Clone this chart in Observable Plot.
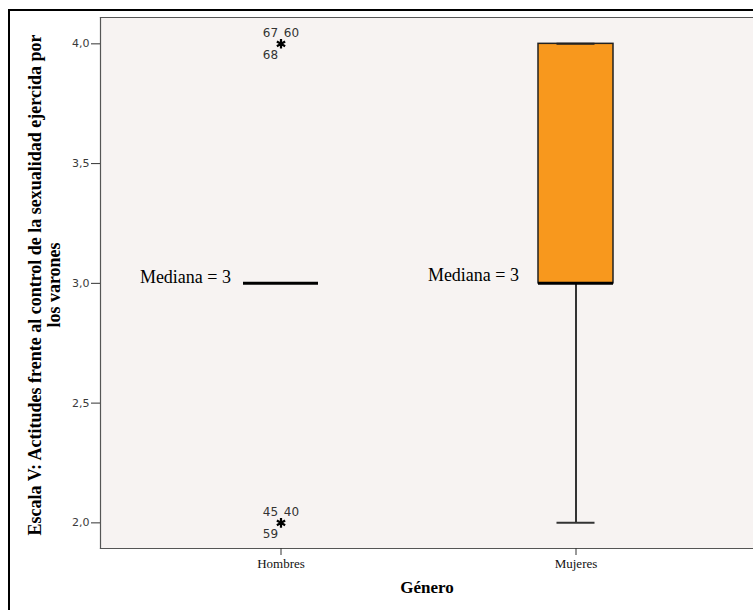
<!DOCTYPE html>
<html>
<head>
<meta charset="utf-8">
<script src="https://cdn.jsdelivr.net/npm/d3@7"></script>
<script src="https://cdn.jsdelivr.net/npm/@observablehq/plot@0.6"></script>
<style>
  html, body { margin: 0; padding: 0; background: #ffffff; }
  #wrap { position: relative; width: 753px; height: 610px; overflow: hidden; }
  #border { position: absolute; left: 8px; top: 9px; width: 800px; height: 700px;
            border-left: 2px solid #000; border-top: 2px solid #000; pointer-events: none; }
</style>
</head>
<body>
<div id="wrap"><div id="border"></div></div>
<script>
// ---- data ----
const categories   = ["Hombres", "Mujeres"];
const q1           = [3, 3];
const medians      = [3, 3];
const q3           = [3, 4];
const whiskerLow   = [3, 2];
const whiskerHigh  = [3, 4];
const outlierCategory = ["Hombres", "Hombres"];
const outlierValue    = [4, 2];
const outlierIds      = [["67", "60", "68"], ["45", "40", "59"]];
const yTicks = [2, 2.5, 3, 3.5, 4];
const yTitle = "Escala V: Actitudes frente al control de la sexualidad ejercida por\nlos varones";
const xTitle = "Género";

// ---- tables built from arrays ----
const boxes = categories.map((c, i) => ({
  cat: c, q1: q1[i], med: medians[i], q3: q3[i], lo: whiskerLow[i], hi: whiskerHigh[i],
  label: `Mediana = ${medians[i]}`
}));
const outliers = outlierCategory.map((c, i) => ({
  cat: c, v: outlierValue[i], a: outlierIds[i][0], b: outlierIds[i][1], c2: outlierIds[i][2]
}));

const serif = "'Liberation Serif', 'Times New Roman', serif";
const sans = "'DejaVu Sans', Verdana, sans-serif";

const chart = Plot.plot({
  width: 753,
  height: 610,
  marginLeft: 100,
  marginTop: 17,
  marginBottom: 62,
  marginRight: 0,
  style: { background: "transparent", overflow: "visible" },
  x: { type: "band", domain: categories, range: [100, 755], paddingInner: 0.746, paddingOuter: 0.4813, label: null },
  y: { domain: [1.893, 4.110], label: null },
  marks: [
    Plot.frame({ fill: "#f7f3f2", stroke: null }),
    // frame lines (left, top, bottom)
    Plot.frame({ anchor: "left", stroke: "#555", strokeWidth: 1.2 }),
    Plot.frame({ anchor: "top", stroke: "#555", strokeWidth: 1.2 }),
    Plot.frame({ anchor: "bottom", stroke: "#555", strokeWidth: 1.2 }),
    // axes
    Plot.axisY({
      ticks: yTicks, tickFormat: d => d.toFixed(1).replace(".", ","),
      tickSize: 9, tickPadding: 2, stroke: "#333", color: "#3a3a3a",
      fontFamily: sans, fontSize: 11, label: null
    }),
    Plot.axisX({
      tickSize: 7, tickPadding: 3, stroke: "#333", color: "#111",
      fontFamily: serif, fontSize: 13, label: null
    }),
    // whiskers
    Plot.ruleX(boxes.filter(d => d.lo < d.q1), { x: "cat", y1: "lo", y2: "q1", stroke: "#333", strokeWidth: 2 }),
    Plot.ruleX(boxes.filter(d => d.hi > d.q3), { x: "cat", y1: "q3", y2: "hi", stroke: "#333", strokeWidth: 2 }),
    // boxes
    Plot.barY(boxes.filter(d => d.q3 > d.q1), {
      x: "cat", y1: "q1", y2: "q3", fill: "#f8981d", stroke: "#222", strokeWidth: 1.5
    }),
    // caps
    Plot.tickY(boxes.filter(d => d.lo < d.hi), { x: "cat", y: "lo", stroke: "#333", strokeWidth: 2, insetLeft: 18.5, insetRight: 18.5 }),
    Plot.tickY(boxes.filter(d => d.lo < d.hi), { x: "cat", y: "hi", stroke: "#222", strokeWidth: 2, insetLeft: 18.5, insetRight: 18.5 }),
    // medians
    Plot.tickY(boxes, { x: "cat", y: "med", stroke: "#000", strokeWidth: 3 }),
    // median labels
    Plot.text(boxes.filter(d => d.cat === "Hombres"), {
      x: "cat", y: "med", text: "label", textAnchor: "end", dx: -50, dy: -6,
      fontFamily: serif, fontSize: 18, fill: "#000"
    }),
    Plot.text(boxes.filter(d => d.cat === "Mujeres"), {
      x: "cat", y: "med", text: "label", textAnchor: "end", dx: -57, dy: -8,
      fontFamily: serif, fontSize: 18, fill: "#000"
    }),
    // outliers
    Plot.dot(outliers, { x: "cat", y: "v", symbol: "asterisk", r: 4.5, stroke: "#000", strokeWidth: 2.2 }),
    Plot.text(outliers, { x: "cat", y: "v", text: "a", dx: -10.5, dy: -11, fontFamily: sans, fontSize: 12, fill: "#333" }),
    Plot.text(outliers, { x: "cat", y: "v", text: "b", dx: 10.5, dy: -11, fontFamily: sans, fontSize: 12, fill: "#333" }),
    Plot.text(outliers, { x: "cat", y: "v", text: "c2", dx: -10.5, dy: 11, fontFamily: sans, fontSize: 12, fill: "#333" }),
    // axis titles
    Plot.text([xTitle], { frameAnchor: "bottom", dy: 44, text: d => d, fontFamily: serif, fontSize: 17, fontWeight: "bold", fill: "#000" }),
    Plot.text([yTitle], { frameAnchor: "left", textAnchor: "middle", dx: -56, dy: 2, rotate: -90, lineHeight: 1.05, text: d => d, fontFamily: serif, fontSize: 18, fontWeight: "bold", fill: "#000" })
  ]
});
document.getElementById("wrap").prepend(chart);
</script>
</body>
</html>
